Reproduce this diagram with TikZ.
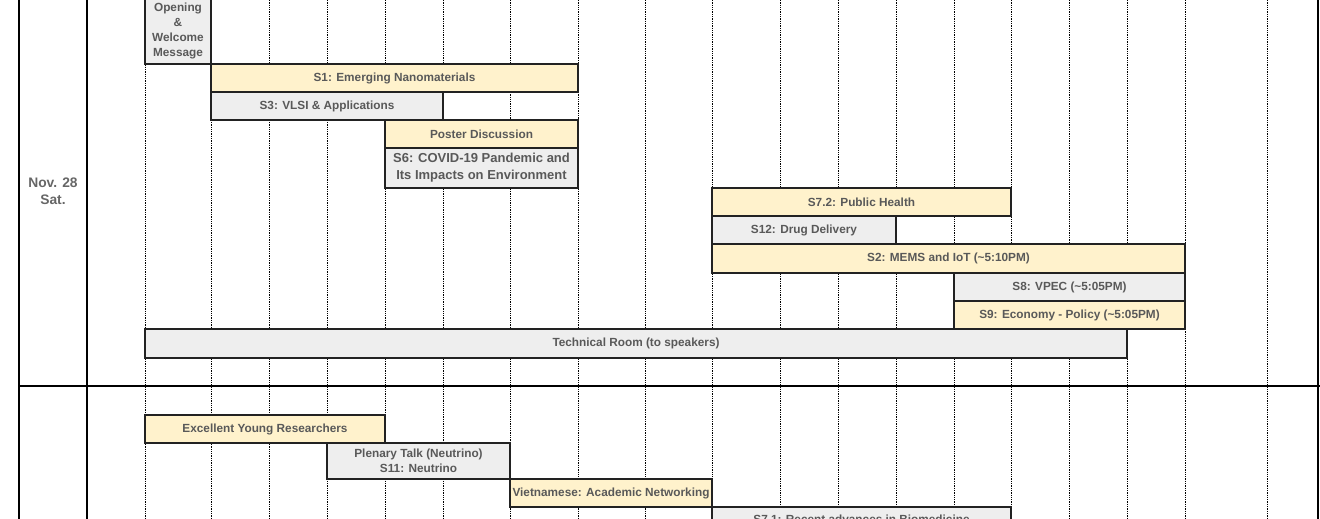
\documentclass[tikz,border=0pt]{standalone}
\usepackage{fontspec}
\setmainfont{Liberation Sans}
\definecolor{yel}{HTML}{FFF2CC}
\definecolor{gry}{HTML}{EEEEEE}
\definecolor{txt}{HTML}{595959}
\definecolor{edge}{HTML}{222222}
\tikzset{
  sess/.style={draw=edge, line width=1.8pt, inner sep=0pt, align=center,
    text=txt, font=\fontsize{11.8}{15}\selectfont\bfseries},
  ys/.style={sess, fill=yel},
  gs/.style={sess, fill=gry},
  grid/.style={black, line width=1pt, dash pattern=on 1.3pt off 1pt},
  frame/.style={black, line width=1.6pt},
}
% #1 style, #2 x1, #3 y1, #4 x2, #5 y2, #6 name, #7 text
\newcommand\sessbox[7]{\node[#1, minimum width={#4-#2}, minimum height={#5-#3}] (#6) at ({(#2+#4)/2},{(#3+#5)/2}) {#7};}
\begin{document}
\begin{tikzpicture}[x=1pt,y=-1pt]
\useasboundingbox (0,0) rectangle (1320,519);
\clip (0,0) rectangle (1320,519);
% dotted columns
\foreach \c in {145,211,269,327,385,443,510,578,645,712,780,838,896,954,1011,1069,1127,1185,1267}
  \draw[grid] (\c,0) -- (\c,519);
% frame
\draw[frame] (19,-2) -- (19,521);
\draw[frame] (87,-2) -- (87,521);
\draw[frame] (1318,-2) -- (1318,521);
\draw[frame] (19,386) -- (1322,386);
% day label
\node[text=txt!92!white, font=\fontsize{13.8}{17}\selectfont\bfseries, align=center] (day) at (53,191) {Nov. 28\\Sat.};
% sessions
\sessbox{gs}{145}{-2}{211}{64}{open}{Opening\\\&\\Welcome\\Message}
\sessbox{ys}{211}{64}{578}{92}{s1}{S1: Emerging Nanomaterials}
\sessbox{gs}{211}{92}{443}{120}{s3}{S3: VLSI \& Applications}
\sessbox{ys}{385}{120}{578}{148}{post}{Poster Discussion}
\sessbox{gs,font=\fontsize{13}{17}\selectfont\bfseries}{385}{148}{578}{188}{s6}{S6: COVID-19 Pandemic and\\Its Impacts on Environment}
\sessbox{ys}{712}{188}{1011}{216}{s72}{S7.2: Public Health}
\sessbox{gs}{712}{216}{896}{244}{s12}{S12: Drug Delivery}
\sessbox{ys}{712}{244}{1185}{273}{s2}{S2: MEMS and IoT (\textasciitilde5:10PM)}
\sessbox{gs}{954}{273}{1185}{301}{s8}{S8: VPEC (\textasciitilde5:05PM)}
\sessbox{ys}{954}{301}{1185}{329}{s9}{S9: Economy - Policy (\textasciitilde5:05PM)}
\sessbox{gs}{145}{329}{1127}{358}{tech}{Technical Room (to speakers)}
\sessbox{ys}{145}{415}{385}{443}{eyr}{Excellent Young Researchers}
\sessbox{gs}{327}{443}{510}{479}{plen}{Plenary Talk (Neutrino)\\S11: Neutrino}
\sessbox{ys}{510}{479}{712}{507}{viet}{Vietnamese: Academic Networking}
\sessbox{gs}{712}{507}{1011}{532}{s71}{S7.1: Recent advances in Biomedicine}
\end{tikzpicture}
\end{document}
